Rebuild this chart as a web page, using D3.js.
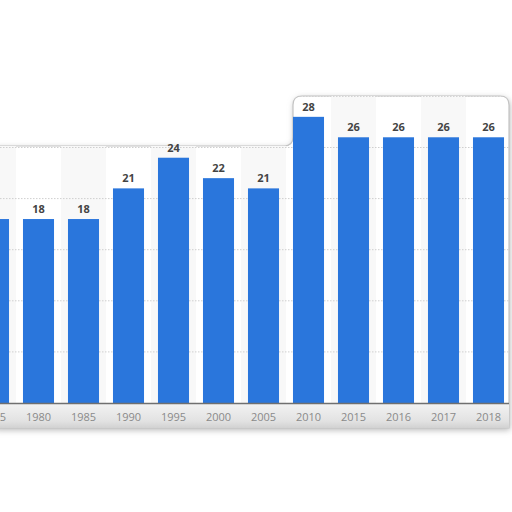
<!DOCTYPE html>
<html>
<head>
<meta charset="utf-8">
<script src="https://cdn.jsdelivr.net/npm/d3@7"></script>
<style>
  html, body { margin: 0; padding: 0; background: #fff; }
  svg { display: block; font-family: "Open Sans", "DejaVu Sans", sans-serif; }
</style>
</head>
<body>
<svg id="canvas" width="512" height="512"></svg>
<script>
var years = ["1975", "1980", "1985", "1990", "1995", "2000", "2005", "2010", "2015", "2016", "2017", "2018"];
var values = [18, 18, 18, 21, 24, 22, 21, 28, 26, 26, 26, 26];
var gridTicks = [5, 10, 15, 20, 25, 30];

var baseline = 403;
var svg = d3.select("#canvas");

var xScale = d3.scaleBand()
	.domain(years)
	.range([-29, 511])
	.paddingInner(0.31)
	.paddingOuter(0.155);

var yScale = d3.scaleLinear()
	.domain([0, 30])
	.range([baseline, 96.4]);

// the cut-out card the chart sits on
var cardPath = "M-6,428 L-6,146 L284,146 Q293,146 293,137 L293,105 Q293,96 302,96 " +
	"L500,96 Q509,96 509,105 L509,428 Z";

var defs = svg.append("defs");
var blur = defs.append("filter").attr("id", "shadow")
	.attr("x", "-10%").attr("y", "-10%").attr("width", "120%").attr("height", "130%");
blur.append("feGaussianBlur").attr("stdDeviation", 3);
defs.append("clipPath").attr("id", "card").append("path").attr("d", cardPath);

// shadow under the card
svg.append("path")
	.attr("d", cardPath)
	.attr("transform", "translate(1,2)")
	.attr("fill", "#b5b5b5")
	.attr("filter", "url(#shadow)");

svg.append("path")
	.attr("d", cardPath)
	.attr("fill", "#ffffff")
	.attr("stroke", "#c4c4c4")
	.attr("stroke-width", 1.2);

var plot = svg.append("g").attr("clip-path", "url(#card)");

// faint alternating column bands
plot.selectAll("rect.band").data(years.filter(function(d, i) {return i % 2 == 0;})).enter()
	.append("rect")
	.attr("class", "band")
	.attr("x", function(d) {return xScale(d) - xScale.step() * 0.155;})
	.attr("y", 90)
	.attr("width", xScale.step())
	.attr("height", baseline - 90)
	.attr("fill", "#f8f8f8");

// bottom strip with the shaded label area
var strip = defs.append("linearGradient").attr("id", "strip")
	.attr("x1", 0).attr("y1", 0).attr("x2", 0).attr("y2", 1);
strip.append("stop").attr("offset", "0%").attr("stop-color", "#f3f3f3");
strip.append("stop").attr("offset", "70%").attr("stop-color", "#e2e2e2");
strip.append("stop").attr("offset", "100%").attr("stop-color", "#cfcfcf");
plot.append("rect")
	.attr("x", -6).attr("y", baseline)
	.attr("width", 520).attr("height", 26)
	.attr("fill", "url(#strip)");

plot.selectAll("line.grid").data(gridTicks).enter()
	.append("line")
	.attr("class", "grid")
	.attr("x1", -6).attr("x2", 512)
	.attr("y1", function(d) {return yScale(d);})
	.attr("y2", function(d) {return yScale(d);})
	.attr("stroke", "#cfcfcf")
	.attr("stroke-dasharray", "1.5,1.5");

plot.selectAll("rect.bar").data(values).enter()
	.append("rect")
	.attr("class", "bar")
	.attr("x", function(d, i) {return xScale(years[i]);})
	.attr("y", function(d) {return yScale(d);})
	.attr("width", xScale.bandwidth())
	.attr("height", function(d) {return baseline - yScale(d);})
	.attr("fill", "#2a76dc");

// value labels sit above the card edge, so not clipped
svg.selectAll("text.value").data(values).enter()
	.append("text")
	.attr("class", "value")
	.attr("x", function(d, i) {return xScale(years[i]) + xScale.bandwidth() / 2;})
	.attr("y", function(d) {return yScale(d) - 6;})
	.attr("text-anchor", "middle")
	.attr("font-size", 11)
	.attr("font-weight", "bold")
	.attr("fill", "#444")
	.text(function(d) {return d;});

// x axis
var xAxis = d3.axisBottom(xScale).tickSize(0).tickPadding(10);
var gx = plot.append("g")
	.attr("class", "x axis")
	.attr("transform", "translate(0," + baseline + ")")
	.call(xAxis);
gx.select(".domain").attr("stroke", "#6f6f6f").attr("stroke-width", 1.5);
gx.selectAll("text")
	.attr("font-size", 11)
	.attr("font-family", "Open Sans, DejaVu Sans, sans-serif")
	.attr("fill", "#8a8a8a");
</script>
</body>
</html>
